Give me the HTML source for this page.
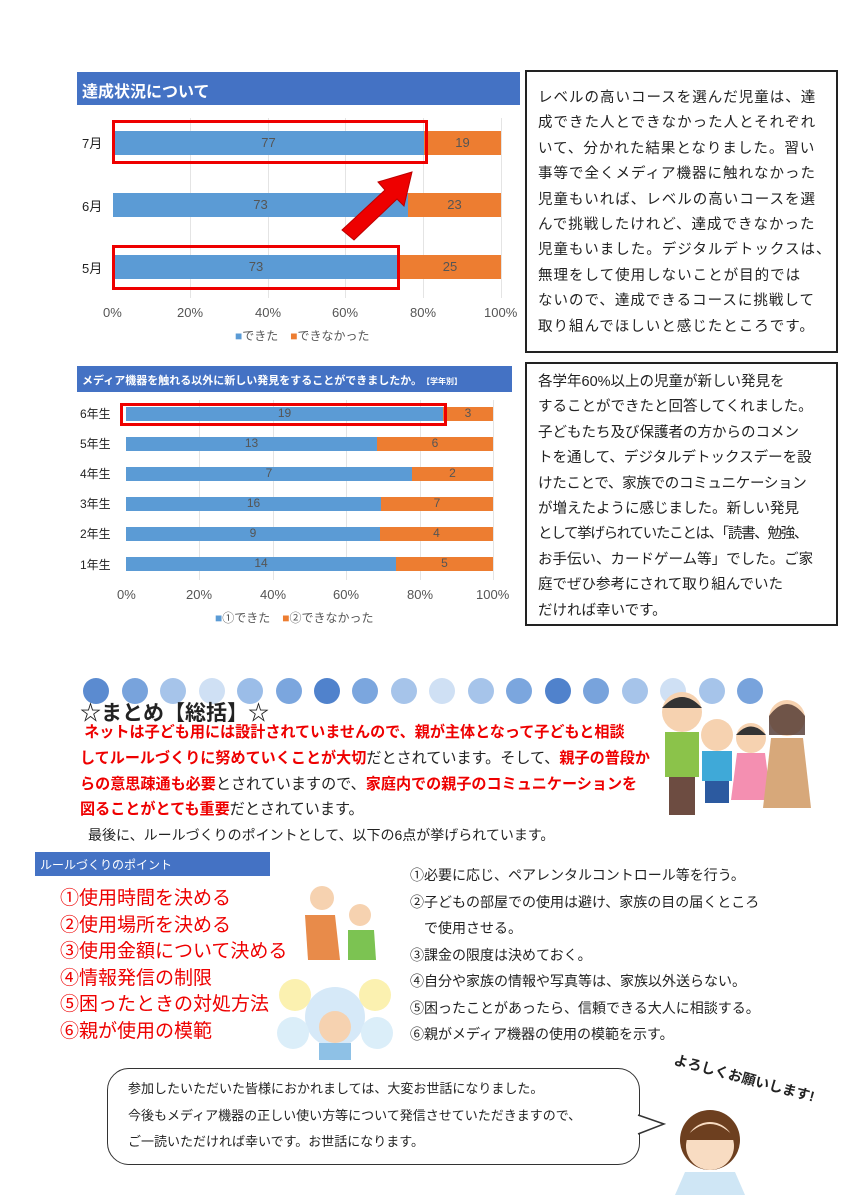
<!DOCTYPE html>
<html><head><meta charset="utf-8"><style>
*{margin:0;padding:0;box-sizing:border-box}
body{width:849px;height:1200px;background:#fff;position:relative;font-family:"Liberation Sans","Noto Sans CJK JP",sans-serif;color:#222;overflow:hidden}
.a{position:absolute;white-space:nowrap}
.bar{position:absolute;height:24px}
.b{background:#5b9bd5}.o{background:#ed7d31}
.v{position:absolute;font-size:13px;color:#555;text-align:center}
.grid{position:absolute;width:1px;background:#e4e4e4}
.box{position:absolute;border:2px solid #222;font-size:14.5px;line-height:25.4px;padding:14px 11px;white-space:nowrap;overflow:hidden}
.dot{position:absolute;width:26px;height:26px;border-radius:50%;top:678px}
.red{color:#e00;font-weight:bold}
</style></head><body>
<!-- chart 1 -->
<div class="a" style="left:77px;top:72px;width:443px;height:33px;background:#4472c4;color:#fff;font-weight:bold;font-size:16px;padding:6px 5px">達成状況について</div>
<div class="grid" style="left:190px;top:118px;height:180px"></div>
<div class="grid" style="left:268px;top:118px;height:180px"></div>
<div class="grid" style="left:345px;top:118px;height:180px"></div>
<div class="grid" style="left:423px;top:118px;height:180px"></div>
<div class="grid" style="left:501px;top:118px;height:180px"></div>
<div class="a" style="left:82px;top:133px;font-size:13px">7月</div>
<div class="a" style="left:82px;top:196px;font-size:13px">6月</div>
<div class="a" style="left:82px;top:258px;font-size:13px">5月</div>
<div class="bar b" style="left:113px;top:131px;width:311px"></div><div class="bar o" style="left:424px;top:131px;width:77px"></div>
<div class="bar b" style="left:113px;top:193px;width:295px"></div><div class="bar o" style="left:408px;top:193px;width:93px"></div>
<div class="bar b" style="left:113px;top:255px;width:286px"></div><div class="bar o" style="left:399px;top:255px;width:102px"></div>
<div class="v" style="left:113px;top:135px;width:311px">77</div><div class="v" style="left:424px;top:135px;width:77px">19</div>
<div class="v" style="left:113px;top:197px;width:295px">73</div><div class="v" style="left:408px;top:197px;width:93px">23</div>
<div class="v" style="left:113px;top:259px;width:286px">73</div><div class="v" style="left:399px;top:259px;width:102px">25</div>
<div class="a" style="left:112px;top:120px;width:316px;height:44px;border:3px solid #e00"></div>
<div class="a" style="left:112px;top:245px;width:288px;height:45px;border:3px solid #e00"></div>
<svg class="a" style="left:330px;top:160px" width="100" height="90"><polygon points="12,70 55,30 48,22 82,12 74,46 67,39 24,80" fill="#e00" stroke="#b00"/></svg>
<div class="a" style="left:103px;top:305px;font-size:13px;color:#555">0%</div>
<div class="a" style="left:177px;top:305px;font-size:13px;color:#555">20%</div>
<div class="a" style="left:255px;top:305px;font-size:13px;color:#555">40%</div>
<div class="a" style="left:332px;top:305px;font-size:13px;color:#555">60%</div>
<div class="a" style="left:410px;top:305px;font-size:13px;color:#555">80%</div>
<div class="a" style="left:484px;top:305px;font-size:13px;color:#555">100%</div>
<div class="a" style="left:235px;top:327px;font-size:12px;color:#555"><span style="color:#5b9bd5">■</span>できた　<span style="color:#ed7d31">■</span>できなかった</div>
<div class="box" style="left:525px;top:70px;width:313px;height:283px;letter-spacing:1px">レベルの高いコースを選んだ児童は、達<br>成できた人とできなかった人とそれぞれ<br>いて、分かれた結果となりました。習い<br>事等で全くメディア機器に触れなかった<br>児童もいれば、レベルの高いコースを選<br>んで挑戦したけれど、達成できなかった<br>児童もいました。デジタルデトックスは、<br>無理をして使用しないことが目的では<br>ないので、達成できるコースに挑戦して<br>取り組んでほしいと感じたところです。</div>
<!-- chart 2 -->
<div class="a" style="left:77px;top:366px;width:435px;height:26px;background:#4472c4;color:#fff;font-weight:bold;font-size:11px;padding:6px 5px">メディア機器を触れる以外に新しい発見をすることができましたか。<span style="font-size:8px">【学年別】</span></div>
<div class="grid" style="left:199px;top:400px;height:180px"></div>
<div class="grid" style="left:273px;top:400px;height:180px"></div>
<div class="grid" style="left:346px;top:400px;height:180px"></div>
<div class="grid" style="left:420px;top:400px;height:180px"></div>
<div class="grid" style="left:493px;top:400px;height:180px"></div>
<div class="a" style="left:80px;top:405px;font-size:12px">6年生</div>
<div class="a" style="left:80px;top:435px;font-size:12px">5年生</div>
<div class="a" style="left:80px;top:465px;font-size:12px">4年生</div>
<div class="a" style="left:80px;top:495px;font-size:12px">3年生</div>
<div class="a" style="left:80px;top:525px;font-size:12px">2年生</div>
<div class="a" style="left:80px;top:556px;font-size:12px">1年生</div>
<div class="bar b" style="left:126px;top:407px;height:14px;width:317px"></div><div class="bar o" style="left:443px;top:407px;height:14px;width:50px"></div>
<div class="bar b" style="left:126px;top:437px;height:14px;width:251px"></div><div class="bar o" style="left:377px;top:437px;height:14px;width:116px"></div>
<div class="bar b" style="left:126px;top:467px;height:14px;width:286px"></div><div class="bar o" style="left:412px;top:467px;height:14px;width:81px"></div>
<div class="bar b" style="left:126px;top:497px;height:14px;width:255px"></div><div class="bar o" style="left:381px;top:497px;height:14px;width:112px"></div>
<div class="bar b" style="left:126px;top:527px;height:14px;width:254px"></div><div class="bar o" style="left:380px;top:527px;height:14px;width:113px"></div>
<div class="bar b" style="left:126px;top:557px;height:14px;width:270px"></div><div class="bar o" style="left:396px;top:557px;height:14px;width:97px"></div>
<div class="v" style="left:126px;top:406px;width:317px;font-size:12px">19</div><div class="v" style="left:443px;top:406px;width:50px;font-size:12px">3</div>
<div class="v" style="left:126px;top:436px;width:251px;font-size:12px">13</div><div class="v" style="left:377px;top:436px;width:116px;font-size:12px">6</div>
<div class="v" style="left:126px;top:466px;width:286px;font-size:12px">7</div><div class="v" style="left:412px;top:466px;width:81px;font-size:12px">2</div>
<div class="v" style="left:126px;top:496px;width:255px;font-size:12px">16</div><div class="v" style="left:381px;top:496px;width:112px;font-size:12px">7</div>
<div class="v" style="left:126px;top:526px;width:254px;font-size:12px">9</div><div class="v" style="left:380px;top:526px;width:113px;font-size:12px">4</div>
<div class="v" style="left:126px;top:556px;width:270px;font-size:12px">14</div><div class="v" style="left:396px;top:556px;width:97px;font-size:12px">5</div>
<div class="a" style="left:120px;top:403px;width:327px;height:23px;border:3px solid #e00"></div>
<div class="a" style="left:117px;top:587px;font-size:13px;color:#555">0%</div>
<div class="a" style="left:186px;top:587px;font-size:13px;color:#555">20%</div>
<div class="a" style="left:260px;top:587px;font-size:13px;color:#555">40%</div>
<div class="a" style="left:333px;top:587px;font-size:13px;color:#555">60%</div>
<div class="a" style="left:407px;top:587px;font-size:13px;color:#555">80%</div>
<div class="a" style="left:476px;top:587px;font-size:13px;color:#555">100%</div>
<div class="a" style="left:215px;top:609px;font-size:12px;color:#555"><span style="color:#5b9bd5">■</span>①できた　<span style="color:#ed7d31">■</span>②できなかった</div>
<div class="box" style="left:525px;top:362px;width:313px;height:264px;padding:6px 11px">各学年60%以上の児童が新しい発見を<br>することができたと回答してくれました。<br>子どもたち及び保護者の方からのコメン<br>トを通して、デジタルデトックスデーを設<br><span style="letter-spacing:-0.3px">けたことで、家族でのコミュニケーション</span><br>が増えたように感じました。新しい発見<br><span style="letter-spacing:-1.3px">として挙げられていたことは、「読書、勉強、</span><br>お手伝い、カードゲーム等」でした。ご家<br>庭でぜひ参考にされて取り組んでいた<br>だければ幸いです。</div>
<!-- dots -->
<div class="dot" style="left:83px;background:#5b8bd0"></div>
<div class="dot" style="left:122px;background:#78a3dc"></div>
<div class="dot" style="left:160px;background:#a6c4ea"></div>
<div class="dot" style="left:199px;background:#cfe0f4"></div>
<div class="dot" style="left:237px;background:#9bbde8"></div>
<div class="dot" style="left:276px;background:#7ba6de"></div>
<div class="dot" style="left:314px;background:#5082cc"></div>
<div class="dot" style="left:352px;background:#7ba6de"></div>
<div class="dot" style="left:391px;background:#a6c4ea"></div>
<div class="dot" style="left:429px;background:#cfe0f4"></div>
<div class="dot" style="left:468px;background:#a6c4ea"></div>
<div class="dot" style="left:506px;background:#7ba6de"></div>
<div class="dot" style="left:545px;background:#5082cc"></div>
<div class="dot" style="left:583px;background:#78a3dc"></div>
<div class="dot" style="left:622px;background:#a6c4ea"></div>
<div class="dot" style="left:660px;background:#cfe0f4"></div>
<div class="dot" style="left:699px;background:#a6c4ea"></div>
<div class="dot" style="left:737px;background:#78a3dc"></div>
<!-- summary -->
<div class="a" style="left:80px;top:701px;font-size:21px;font-weight:bold;line-height:26px">☆まとめ【総括】☆</div>
<div class="a" style="left:80px;top:720px;font-size:15.1px;line-height:25.8px">
<span class="red">&nbsp;ネットは子ども用には設計されていませんので、親が主体となって子どもと相談</span><br><span class="red">してルールづくりに努めていくことが大切</span>だとされています。そして、<span class="red">親子の普段か</span><br><span class="red">らの意思疎通も必要</span>とされていますので、<span class="red">家庭内での親子のコミュニケーションを</span><br><span class="red">図ることがとても重要</span>だとされています。</div>
<div class="a" style="left:88px;top:825px;font-size:14px">最後に、ルールづくりのポイントとして、以下の6点が挙げられています。</div>
<!-- family -->
<svg class="a" style="left:655px;top:690px" width="180" height="125">
<circle cx="27" cy="22" r="20" fill="#f6d2b0"/><path d="M7,18 Q27,-4 47,18" fill="#333"/>
<rect x="10" y="42" width="34" height="45" fill="#8bc34a"/><rect x="14" y="87" width="26" height="38" fill="#6d4c41"/>
<circle cx="62" cy="45" r="16" fill="#f6d2b0"/><rect x="47" y="61" width="30" height="30" fill="#3fa9d8"/><rect x="50" y="91" width="24" height="22" fill="#2c5aa0"/>
<circle cx="96" cy="48" r="15" fill="#f6d2b0"/><path d="M81,45 Q96,28 111,45" fill="#333"/><path d="M82,63 L110,63 L116,110 L76,110Z" fill="#f48fb1"/>
<circle cx="132" cy="28" r="18" fill="#f6d2b0"/><path d="M114,26 Q132,2 150,26 L150,45 L114,45Z" fill="#4e342e" opacity=".8"/><path d="M116,48 L148,48 L156,118 L108,118Z" fill="#d7a87a"/>
</svg>
<!-- rules -->
<div class="a" style="left:35px;top:852px;width:235px;height:24px;background:#4472c4;color:#fff;font-size:12px;padding:4px 5px">ルールづくりのポイント</div>
<div class="a" style="left:60px;top:886px;font-size:19px;line-height:26.5px;color:#e00">①使用時間を決める<br>②使用場所を決める<br>③使用金額について決める<br>④情報発信の制限<br>⑤困ったときの対処方法<br>⑥親が使用の模範</div>
<svg class="a" style="left:300px;top:880px" width="80" height="80"><circle cx="22" cy="18" r="12" fill="#f6d2b0"/><path d="M5,35 L35,35 L40,80 L8,80Z" fill="#e88b4a"/><circle cx="60" cy="35" r="11" fill="#f6d2b0"/><path d="M48,50 L74,50 L76,80 L48,80Z" fill="#7cc352"/></svg>
<svg class="a" style="left:275px;top:975px" width="120" height="85"><circle cx="60" cy="42" r="30" fill="#d6e9f8"/><circle cx="20" cy="20" r="16" fill="#fbf1b0"/><circle cx="100" cy="20" r="16" fill="#fbf1b0"/><circle cx="18" cy="58" r="16" fill="#dbeef9"/><circle cx="102" cy="58" r="16" fill="#dbeef9"/><circle cx="60" cy="52" r="16" fill="#f6d2b0"/><rect x="44" y="68" width="32" height="17" fill="#8ec1e6"/></svg>
<div class="a" style="left:410px;top:862px;font-size:14px;line-height:26.5px">①必要に応じ、ペアレンタルコントロール等を行う。<br>②子どもの部屋での使用は避け、家族の目の届くところ<br>　で使用させる。<br>③課金の限度は決めておく。<br>④自分や家族の情報や写真等は、家族以外送らない。<br>⑤困ったことがあったら、信頼できる大人に相談する。<br>⑥親がメディア機器の使用の模範を示す。</div>
<!-- bubble -->
<div class="a" style="left:107px;top:1068px;width:533px;height:97px;border:1.5px solid #333;border-radius:22px;font-size:13px;line-height:26.5px;padding:7px 20px">参加したいただいた皆様におかれましては、大変お世話になりました。<br>今後もメディア機器の正しい使い方等について発信させていただきますので、<br>ご一読いただければ幸いです。お世話になります。</div>
<svg class="a" style="left:636px;top:1110px" width="30" height="30"><path d="M2,5 L28,14 L2,24" fill="#fff" stroke="#333" stroke-width="1.5"/><rect x="0" y="7" width="3" height="15" fill="#fff"/></svg>
<div class="a" style="left:672px;top:1068px;font-size:14px;font-weight:bold;transform:rotate(15deg)">よろしくお願いします!</div>
<svg class="a" style="left:665px;top:1090px" width="95" height="105"><circle cx="45" cy="50" r="30" fill="#6d3f1f"/><circle cx="45" cy="56" r="24" fill="#f8dcc2"/><path d="M18,50 Q45,18 72,50" fill="#6d3f1f"/><path d="M20,82 L70,82 L80,105 L10,105Z" fill="#cfe6f5"/></svg>
</body></html>
